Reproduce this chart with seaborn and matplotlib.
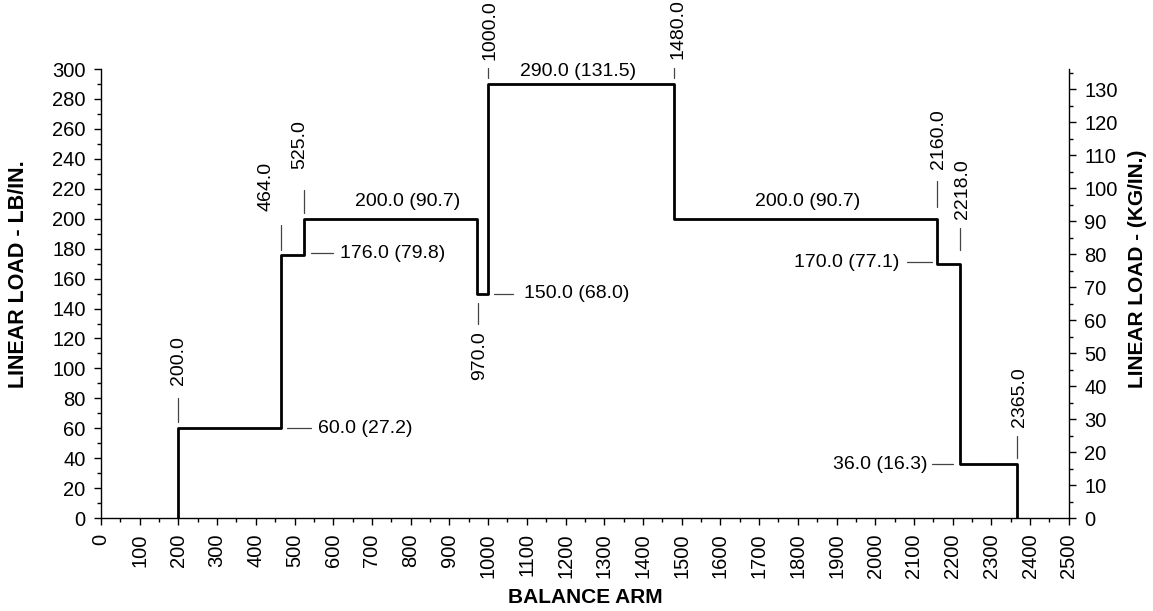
import matplotlib
matplotlib.use("Agg")
import matplotlib.pyplot as plt
from matplotlib import font_manager
from matplotlib.ticker import MultipleLocator
import seaborn as sns
import pandas as pd

# ---- data ----
stations = [200, 464, 525, 970, 1000, 1480, 2160, 2218, 2365]
loads_lb = [60, 176, 200, 150, 290, 200, 170, 36, 0]
loads_kg = [27.2, 79.8, 90.7, 68.0, 131.5, 90.7, 77.1, 16.3]
station_labels = ["200.0", "464.0", "525.0", "970.0", "1000.0", "1480.0",
                  "2160.0", "2218.0", "2365.0"]
load_labels = ["60.0 (27.2)", "176.0 (79.8)", "200.0 (90.7)", "150.0 (68.0)",
               "290.0 (131.5)", "200.0 (90.7)", "170.0 (77.1)", "36.0 (16.3)"]
LB_TO_KG = 0.4536

sns.set_theme(style="white")
names = {f.name for f in font_manager.fontManager.ttflist}
narrow = "Liberation Sans Narrow" if "Liberation Sans Narrow" in names else "Liberation Sans"
plt.rcParams['font.family'] = ['Liberation Sans', 'DejaVu Sans']

fig = plt.figure(figsize=(11.53, 6.11), dpi=100)
ax = fig.add_axes([0.0876, 0.152, 0.927 - 0.0876, 0.887 - 0.152])

df = pd.DataFrame({"x": [stations[0]] + stations, "y": [0] + loads_lb})
sns.lineplot(data=df, x="x", y="y", ax=ax, estimator=None, sort=False,
             drawstyle="steps-post", color="black", lw=2)

TICK_FS = 14.5
ax.set_xlim(0, 2500)
ax.set_ylim(0, 300)
ax.xaxis.set_major_locator(MultipleLocator(100))
ax.xaxis.set_minor_locator(MultipleLocator(50))
ax.yaxis.set_major_locator(MultipleLocator(20))
ax.yaxis.set_minor_locator(MultipleLocator(10))
ax.tick_params(axis="both", which="major", direction="out", length=5, width=1,
               color="black", labelsize=TICK_FS, labelcolor="black", pad=6,
               bottom=True, left=True)
ax.tick_params(axis="both", which="minor", direction="out", length=3, width=1,
               color="black", bottom=True, left=True)
ax.tick_params(axis="x", labelrotation=90)
for s in ["left", "bottom"]:
    ax.spines[s].set_color("black")
    ax.spines[s].set_linewidth(1)
ax.spines["top"].set_visible(False)
ax.spines["right"].set_visible(False)
ax.set_xlabel("BALANCE ARM", fontsize=15, fontweight="bold", color="black",
              ha="center", va="center")
ax.xaxis.set_label_coords(0.5, -0.176)
ax.set_ylabel("LINEAR LOAD - LB/IN.", fontsize=15.5, fontweight="bold", color="black",
              ha="center", va="center")
ax.yaxis.set_label_coords(-0.085, 0.543)

ax2 = ax.twinx()
ax2.set_ylim(0, 300 * LB_TO_KG)
ax2.yaxis.set_minor_locator(MultipleLocator(5))
ax2.set_yticks([v for v in range(0, 131, 10)])
ax2.tick_params(axis="y", which="major", direction="out", length=5, width=1,
                color="black", labelsize=TICK_FS, labelcolor="black", right=True, pad=6)
ax2.tick_params(axis="y", which="minor", direction="out", length=3, width=1,
                color="black", right=True)
ax2.spines["right"].set_visible(True)
ax2.spines["right"].set_color("black")
ax2.spines["right"].set_linewidth(1)
for s in ["top", "left", "bottom"]:
    ax2.spines[s].set_visible(False)
ax2.set_ylabel("LINEAR LOAD - (KG/IN.)", fontsize=15, fontweight="bold", color="black",
               ha="center", va="center")
ax2.yaxis.set_label_coords(1.0713, 0.556)
ax2.grid(False)
ax.grid(False)

tk = dict(fontsize=14, family=narrow, color="black")
lead = dict(color="#444444", lw=0.9, clip_on=False)

# station labels (vertical), (leader x, y0, y1, text x, text y, va)
st_pos = [
    (200, 64, 80, 200, 89, "bottom"),
    (464, 179, 196, 425, 205, "bottom"),
    (525, 204, 219, 514, 233, "bottom"),
    (974, 130, 144, 979, 125, "top"),
    (1000, 294, 301, 1005, 306, "bottom"),
    (1480, 294, 301, 1490, 307, "bottom"),
    (2159, 208, 225, 2163, 233, "bottom"),
    (2218, 179, 194, 2226, 200, "bottom"),
    (2366, 40, 55, 2373, 61, "bottom"),
]
for lab, (lx, y0, y1, tx, ty, va) in zip(station_labels, st_pos):
    ax.plot([lx, lx], [y0, y1], **lead)
    ax.text(tx, ty, lab, rotation=90, ha="center", va=va, clip_on=False, **tk)

# load labels: (leader x0, x1, y or None, text x, text y, ha, va)
ld_pos = [
    (480, 542, 60, 561, 60, "left", "center"),
    (542, 599, 177, 617, 177, "left", "center"),
    (None, None, None, 793, 206, "center", "bottom"),
    (1015, 1064, 150, 1092, 150, "left", "center"),
    (None, None, None, 1232, 293, "center", "bottom"),
    (None, None, None, 1826, 206, "center", "bottom"),
    (2082, 2146, 171, 2061, 171, "right", "center"),
    (2146, 2200, 36, 2136, 36, "right", "center"),
]
for lab, (x0, x1, ly, tx, ty, ha, va) in zip(load_labels, ld_pos):
    if x0 is not None:
        ax.plot([x0, x1], [ly, ly], **lead)
    ax.text(tx, ty, lab, ha=ha, va=va, clip_on=False, **tk)

fig.savefig("out.png", dpi=100)
